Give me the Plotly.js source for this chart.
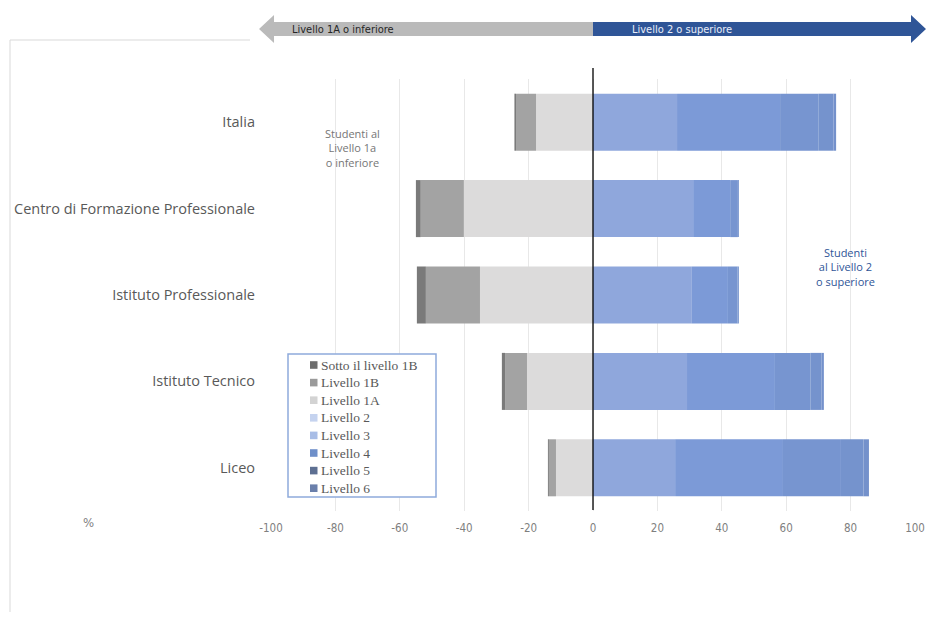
<!DOCTYPE html>
<html>
<head>
<meta charset="utf-8">
<script src="https://cdn.plot.ly/plotly-3.0.1.min.js"></script>
<style>html,body{margin:0;padding:0;background:#fff;}#chart{width:926px;height:637px;}</style>
</head>
<body>
<div id="chart"></div>
<script>
// Categories (top to bottom)
const categories = ["Italia", "Centro di Formazione Professionale", "Istituto Professionale", "Istituto Tecnico", "Liceo"];

// Percent of students per level (below Level 2 shown as negative values)
const sotto1B = [0.5, 1.5, 2.8, 1.0, 0.3];
const livello1B = [6.2, 13.4, 16.8, 6.8, 2.2];
const livello1A = [17.7, 40.1, 35.1, 20.5, 11.5];
const livello2 = [26.1, 31.1, 30.7, 29.2, 25.5];
const livello3 = [32.0, 11.5, 11.2, 27.3, 33.5];
const livello4 = [12.0, 2.4, 3.0, 11.0, 18.0];
const livello5 = [4.6, 0.3, 0.4, 3.5, 7.0];
const livello6 = [0.8, 0.0, 0.0, 0.7, 1.7];

const seriesNames = ["Sotto il livello 1B", "Livello 1B", "Livello 1A", "Livello 2", "Livello 3", "Livello 4", "Livello 5", "Livello 6"];
const xTicks = [-100, -80, -60, -40, -20, 0, 20, 40, 60, 80, 100];

// styles
const barColors = {
  "Sotto il livello 1B": "#7a7a7a",
  "Livello 1B": "#a3a3a3",
  "Livello 1A": "#dcdbdb",
  "Livello 2": "#8fa7dc",
  "Livello 3": "#7c9ad7",
  "Livello 4": "#7795d0",
  "Livello 5": "#7593cd",
  "Livello 6": "#7491cb"
};
const legendColors = {
  "Sotto il livello 1B": "#6d6d6d",
  "Livello 1B": "#9a9a9a",
  "Livello 1A": "#d3d3d3",
  "Livello 2": "#c5d3ef",
  "Livello 3": "#a8bde6",
  "Livello 4": "#6e8fc9",
  "Livello 5": "#5d6f92",
  "Livello 6": "#6a7fab"
};

const neg = a => a.map(v => -v);
const dataBySeries = {
  "Livello 1A": neg(livello1A),
  "Livello 1B": neg(livello1B),
  "Sotto il livello 1B": neg(sotto1B),
  "Livello 2": livello2,
  "Livello 3": livello3,
  "Livello 4": livello4,
  "Livello 5": livello5,
  "Livello 6": livello6
};
const stackOrder = ["Livello 1A", "Livello 1B", "Sotto il livello 1B", "Livello 2", "Livello 3", "Livello 4", "Livello 5", "Livello 6"];

const traces = stackOrder.map(name => ({
  type: "bar",
  orientation: "h",
  name: name,
  y: categories,
  x: dataBySeries[name],
  marker: {color: barColors[name], line: {width: 0}},
  showlegend: false,
  hovertemplate: name + ": %{x:.1f}%<extra>%{y}</extra>"
}));

// pixel helpers for decorations (plot area: x 271..915, y 79..511)
const L = 271, R = 915, T = 79, B = 511;
const px = x => (x - L) / (R - L);
const py = y => (B - y) / (B - T);
const pathOf = pts => "M " + pts.map(p => px(p[0]).toFixed(4) + "," + py(p[1]).toFixed(4)).join(" L ") + " Z";

const shapes = [
  // left arrow (grey)
  {type: "path", xref: "paper", yref: "paper", layer: "above",
   path: pathOf([[259,29],[274,15],[274,22],[593,22],[593,36],[274,36],[274,43]]),
   fillcolor: "#bababa", line: {width: 0}},
  // right arrow (blue)
  {type: "path", xref: "paper", yref: "paper", layer: "above",
   path: pathOf([[593,22],[911,22],[911,15],[926,29],[911,43],[911,36],[593,36]]),
   fillcolor: "#2f5597", line: {width: 0}},
  // frame lines
  {type: "line", xref: "paper", yref: "paper", x0: px(10), x1: px(250), y0: py(40), y1: py(40), line: {color: "#d9d9d9", width: 1}},
  {type: "line", xref: "paper", yref: "paper", x0: px(10), x1: px(10), y0: py(40), y1: py(612), line: {color: "#d9d9d9", width: 1}},
  // zero line
  {type: "line", xref: "x", yref: "paper", x0: 0, x1: 0, y0: py(510), y1: py(68), line: {color: "#000000", width: 1.3}, layer: "above"},
  // legend box
  {type: "rect", xref: "paper", yref: "paper", layer: "above",
   x0: px(288), x1: px(436), y0: py(354), y1: py(497),
   fillcolor: "#ffffff", line: {color: "#8eaadb", width: 1.5}}
];

const annotations = [
  {xref: "paper", yref: "paper", x: px(290), y: py(29), xanchor: "left", yanchor: "middle", showarrow: false,
   text: "Livello 1A o inferiore", font: {family: "DejaVu Sans Condensed, Liberation Sans Narrow, sans-serif", size: 11, color: "#262626"}},
  {xref: "paper", yref: "paper", x: px(630), y: py(29), xanchor: "left", yanchor: "middle", showarrow: false,
   text: "Livello 2 o superiore", font: {family: "DejaVu Sans Condensed, Liberation Sans Narrow, sans-serif", size: 11, color: "#e9eef9"}},
  {xref: "paper", yref: "paper", x: px(352), y: py(148), xanchor: "center", yanchor: "middle", showarrow: false,
   text: "Studenti al<br>Livello 1a<br>o inferiore", align: "center",
   font: {family: "Open Sans, sans-serif", size: 11, color: "#767676"}},
  {xref: "paper", yref: "paper", x: px(845), y: py(267), xanchor: "center", yanchor: "middle", showarrow: false,
   text: "Studenti<br>al Livello 2<br>o superiore", align: "center",
   font: {family: "Open Sans, sans-serif", size: 11, color: "#2f5597"}},
  {xref: "paper", yref: "paper", x: px(88), y: py(522), xanchor: "center", yanchor: "middle", showarrow: false,
   text: "%", font: {family: "DejaVu Sans Condensed, sans-serif", size: 13, color: "#7f7f7f"}}
];

// manual legend entries
seriesNames.forEach((name, i) => {
  const yc = 365 + i * 17.6;
  shapes.push({type: "rect", xref: "paper", yref: "paper", layer: "above",
    x0: px(310), x1: px(317.5), y0: py(yc - 3.8), y1: py(yc + 3.8),
    fillcolor: legendColors[name], line: {width: 0}});
  annotations.push({xref: "paper", yref: "paper", x: px(319), y: py(yc), xanchor: "left", yanchor: "middle",
    showarrow: false, text: name, font: {family: "Liberation Serif, serif", size: 13.5, color: "#595959"}});
});

const layout = {
  width: 926, height: 637,
  margin: {l: L, r: 926 - R, t: T, b: 637 - B, pad: 0},
  paper_bgcolor: "#ffffff", plot_bgcolor: "#ffffff",
  barmode: "relative", bargap: 0.34,
  showlegend: false,
  xaxis: {
    range: [-100, 100], tickvals: xTicks, ticktext: xTicks.map(String),
    showgrid: true, gridcolor: "#e8e8e8", gridwidth: 1, zeroline: false,
    showline: false, ticks: "",
    tickfont: {family: "DejaVu Sans Condensed, sans-serif", size: 11.5, color: "#7f7f7f"},
    ticklabelstandoff: 8, fixedrange: true
  },
  yaxis: {
    type: "category", categoryorder: "array", categoryarray: categories,
    autorange: "reversed", showgrid: false, zeroline: false, showline: false, ticks: "",
    tickfont: {family: "Open Sans, sans-serif", size: 14.5, color: "#595959"},
    ticklabelstandoff: 15, fixedrange: true
  },
  shapes: shapes,
  annotations: annotations
};

Plotly.newPlot("chart", traces, layout, {displayModeBar: false, staticPlot: true});
</script>
</body>
</html>
